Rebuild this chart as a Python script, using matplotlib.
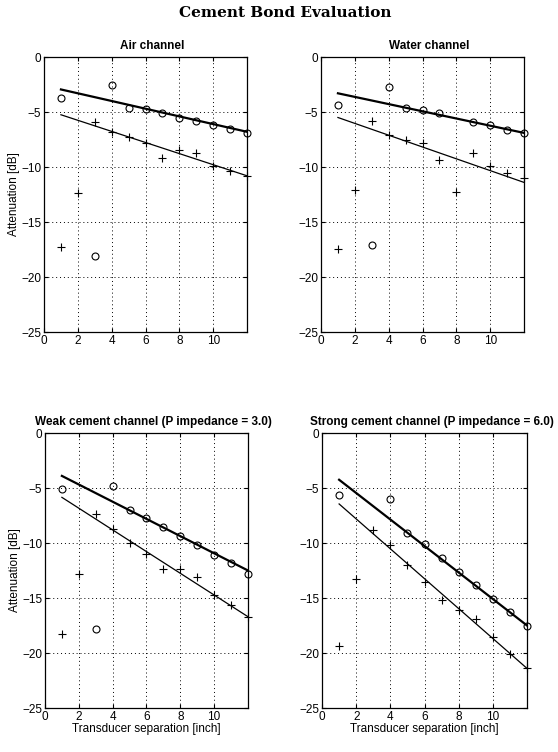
"""
Cement bond evaluation: attenuation vs transducer separation for four
channel conditions, with linear fits to each receiver series.
"""

import matplotlib

matplotlib.use("Agg")
import matplotlib.pyplot as plt

plt.rcParams["font.family"] = ["Liberation Sans", "DejaVu Sans"]

separation = [1, 2, 3, 4, 5, 6, 7, 8, 9, 10, 11, 12]
fit_x = [1, 12]

# (x, y) for the circle series, per panel
air_circle_x = [1, 3, 4, 5, 6, 7, 8, 9, 10, 11, 12]
air_circle_y = [-3.7, -18.1, -2.5, -4.6, -4.7, -5.1, -5.5, -5.8, -6.15, -6.5, -6.9]
air_cross_y = [-17.3, -12.4, -5.9, -6.85, -7.3, -7.85, -9.2, -8.45, -8.75, -9.9, -10.4, -10.8]
air_fit_circle = [-2.95, -6.8]
air_fit_cross = [-5.25, -10.8]

water_circle_x = [1, 3, 4, 5, 6, 7, 9, 10, 11, 12]
water_circle_y = [-4.4, -17.1, -2.75, -4.6, -4.8, -5.1, -5.9, -6.2, -6.6, -6.9]
water_cross_y = [-17.45, -12.1, -5.8, -7.05, -7.55, -7.85, -9.4, -12.3, -8.75, -9.95, -10.5, -11.0]
water_fit_circle = [-3.3, -6.9]
water_fit_cross = [-5.5, -11.4]

weak_circle_x = [1, 3, 4, 5, 6, 7, 8, 9, 10, 11, 12]
weak_circle_y = [-5.05, -17.8, -4.8, -7.0, -7.7, -8.5, -9.35, -10.2, -11.05, -11.8, -12.8]
weak_cross_y = [-18.3, -12.8, -7.4, -8.7, -10.0, -11.0, -12.4, -12.4, -13.1, -14.7, -15.6, -16.7]
weak_fit_circle = [-3.9, -12.5]
weak_fit_cross = [-5.85, -16.7]

strong_circle_x = [1, 4, 5, 6, 7, 8, 9, 10, 11, 12]
strong_circle_y = [-5.6, -6.0, -9.1, -10.1, -11.4, -12.6, -13.8, -15.05, -16.3, -17.55]
strong_cross_y = [-19.4, -13.3, -8.85, -10.2, -12.0, -13.5, -15.2, -16.1, -16.9, -18.5, -20.1, -21.4]
strong_fit_circle = [-4.25, -17.5]
strong_fit_cross = [-6.45, -21.4]

panels = [
    ("Air channel", air_circle_x, air_circle_y, air_cross_y, air_fit_circle, air_fit_cross),
    ("Water channel", water_circle_x, water_circle_y, water_cross_y, water_fit_circle, water_fit_cross),
    ("Weak cement channel (P impedance = 3.0)", weak_circle_x, weak_circle_y, weak_cross_y,
     weak_fit_circle, weak_fit_cross),
    ("Strong cement channel (P impedance = 6.0)", strong_circle_x, strong_circle_y, strong_cross_y,
     strong_fit_circle, strong_fit_cross),
]

# axes rectangles in figure fractions: [left, bottom, width, height]
rects = [
    [0.0789, 0.5585, 0.3638, 0.3657],
    [0.5753, 0.5585, 0.3638, 0.3657],
    [0.0806, 0.0585, 0.3638, 0.3657],
    [0.5771, 0.0585, 0.3674, 0.3657],
]

fig = plt.figure(figsize=(5.58, 7.52), dpi=100)

for i, (title, cx, cy, ky, fc, fk) in enumerate(panels):
    ax = fig.add_axes(rects[i])
    ax.plot(fit_x, fc, "k-", lw=1.6)
    ax.plot(fit_x, fk, "k-", lw=0.9)
    ax.plot(cx, cy, "o", mfc="none", mec="k", ms=5, mew=0.8, clip_on=False)
    ax.plot(separation, ky, "+", color="k", ms=6, mew=0.8, clip_on=False)

    ax.set_xlim(0, 12)
    ax.set_ylim(-25, 0)
    ax.set_xticks([0, 2, 4, 6, 8, 10])
    ax.set_yticks([0, -5, -10, -15, -20, -25])
    ax.set_yticklabels(["0", "\u22125", "\u221210", "\u221215", "\u221220", "\u221225"])
    ax.tick_params(direction="in", length=3, labelsize=8.5, top=True, right=True, pad=2)
    ax.grid(True, color="k", linestyle=(0, (1, 3)), linewidth=0.7)
    for s in ax.spines.values():
        s.set_linewidth(0.9)
    t = ax.set_title(title, fontsize=8.5, fontweight="bold", pad=6)
    t.set_x(0.535)

    if i % 2 == 0:
        ax.set_ylabel("Attenuation [dB]", fontsize=8.5, labelpad=1)
    if i >= 2:
        ax.set_xlabel("Transducer separation [inch]", fontsize=8.5, labelpad=0)

fig.text(0.511, 0.983, "Cement Bond Evaluation", ha="center", va="center",
         fontsize=11, fontweight="bold", family=["DejaVu Serif"])

fig.savefig("out.png", dpi=100)
